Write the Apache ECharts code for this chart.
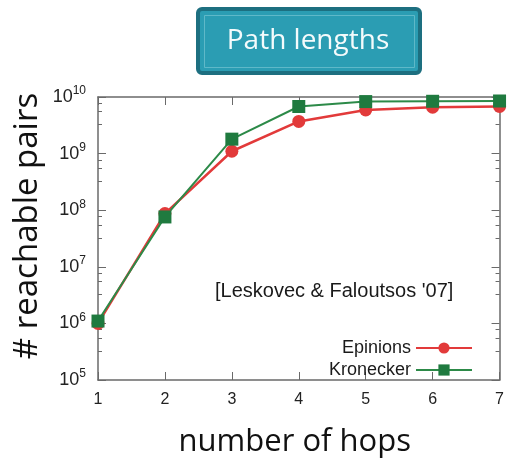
<!DOCTYPE html>
<html>
<head>
<meta charset="utf-8">
<script src="https://cdn.jsdelivr.net/npm/echarts@6/dist/echarts.min.js"></script>
<style>
  html, body { margin: 0; padding: 0; background: #fff; }
  #chart { width: 507px; height: 465px; }
</style>
</head>
<body>
<div id="chart"></div>
<script>
  // hops on x, reachable pairs on a log y axis
  var hops = [1, 2, 3, 4, 5, 6, 7];
  var epinions = [1.0e6, 8.7e7, 1.1e9, 3.7e9, 5.9e9, 6.6e9, 6.8e9];
  var kronecker = [1.1e6, 7.6e7, 1.8e9, 6.8e9, 8.3e9, 8.4e9, 8.5e9];
  var yExpTicks = [5, 6, 7, 8, 9, 10];

  var chart = echarts.init(document.getElementById('chart'));

  function pairs(vals) {
    return hops.map(function (h, i) { return [h, vals[i]]; });
  }

  var frame = '#6a6a6a';
  var font = '"Liberation Sans", Arial, sans-serif';

  chart.setOption({
    animation: false,
    graphic: [
      {
        type: 'rect', left: 196, top: 7,
        shape: { width: 222, height: 64, r: 4 },
        style: { fill: '#2b9db3', stroke: '#1d6f80', lineWidth: 4 }
      },
      {
        type: 'rect', left: 202, top: 13,
        shape: { width: 210, height: 52 },
        style: { fill: 'none', stroke: '#5fb8c8', lineWidth: 1 }
      },
      {
        type: 'text', x: 308, y: 41,
        style: {
          text: 'Path lengths', fill: '#f4fbfc', align: 'center', verticalAlign: 'middle',
          font: '28px "Open Sans", sans-serif'
        }
      },
      {
        type: 'text', x: 215, y: 291,
        style: { text: "[Leskovec & Faloutsos '07]", fill: '#1a1a1a', verticalAlign: 'middle', font: '20px ' + font }
      },
      {
        type: 'text', x: 28, y: 226, rotation: Math.PI / 2,
        style: {
          text: '# reachable pairs', fill: '#111', align: 'center', verticalAlign: 'middle',
          font: '33px "Open Sans", sans-serif'
        }
      }
    ],
    grid: { left: 98, right: 4, top: 97, bottom: 85 },
    legend: {
      right: 29, top: 334, orient: 'vertical', align: 'right',
      itemWidth: 56, itemHeight: 14, itemGap: 4,
      textStyle: { fontFamily: font, fontSize: 18, color: '#1a1a1a' },
      data: ['Epinions', 'Kronecker']
    },
    xAxis: [
      {
        type: 'value', min: 1, max: 7, interval: 1,
        axisLine: { lineStyle: { color: frame, width: 1.5 } },
        axisTick: { inside: true, length: 8, lineStyle: { color: frame } },
        axisLabel: { color: '#222', fontFamily: font, fontSize: 16, margin: 12 },
        splitLine: { show: false },
        name: 'number of hops', nameLocation: 'middle', nameGap: 47,
        nameTextStyle: { fontFamily: '"Open Sans", sans-serif', fontSize: 31, color: '#111', padding: [0, 8, 0, 0] }
      },
      {
        type: 'value', min: 1, max: 7, interval: 1, position: 'top',
        axisLine: { lineStyle: { color: frame, width: 1.5 } },
        axisTick: { inside: true, length: 8, lineStyle: { color: frame } },
        axisLabel: { show: false }, splitLine: { show: false }
      }
    ],
    yAxis: [
      {
        type: 'log', logBase: 10, min: 1e5, max: 1e10,
        axisLine: { show: true, lineStyle: { color: frame, width: 1.5 } },
        axisTick: { inside: true, length: 8, lineStyle: { color: frame } },
        minorTick: { show: true, splitNumber: 4, length: 4, lineStyle: { color: frame } },
        splitLine: { show: false },
        axisLabel: {
          margin: 12,
          formatter: function (v) {
            var e = Math.round(Math.log10(v));
            return yExpTicks.indexOf(e) >= 0 ? '{b|10}{s|' + e + '}' : '';
          },
          rich: {
            b: { fontFamily: font, fontSize: 18, color: '#222' },
            s: { fontFamily: font, fontSize: 12, color: '#222', verticalAlign: 'bottom', padding: [0, 0, 12, 0] }
          }
        }
      },
      {
        type: 'log', logBase: 10, min: 1e5, max: 1e10, position: 'right',
        axisLine: { show: true, lineStyle: { color: frame, width: 1.5 } },
        axisTick: { inside: true, length: 8, lineStyle: { color: frame } },
        minorTick: { show: true, splitNumber: 4, length: 4, lineStyle: { color: frame } },
        splitLine: { show: false },
        axisLabel: { show: false }
      }
    ],
    series: [
      {
        name: 'Epinions', type: 'line', data: pairs(epinions),
        symbol: 'circle', symbolSize: 13,
        itemStyle: { color: '#e23a3a' },
        lineStyle: { color: '#e23a3a', width: 2.5 }
      },
      {
        name: 'Kronecker', type: 'line', data: pairs(kronecker),
        symbol: 'rect', symbolSize: 13,
        itemStyle: { color: '#1f7a3f' },
        lineStyle: { color: '#2c8a48', width: 2 }
      }
    ]
  });
</script>
</body>
</html>
